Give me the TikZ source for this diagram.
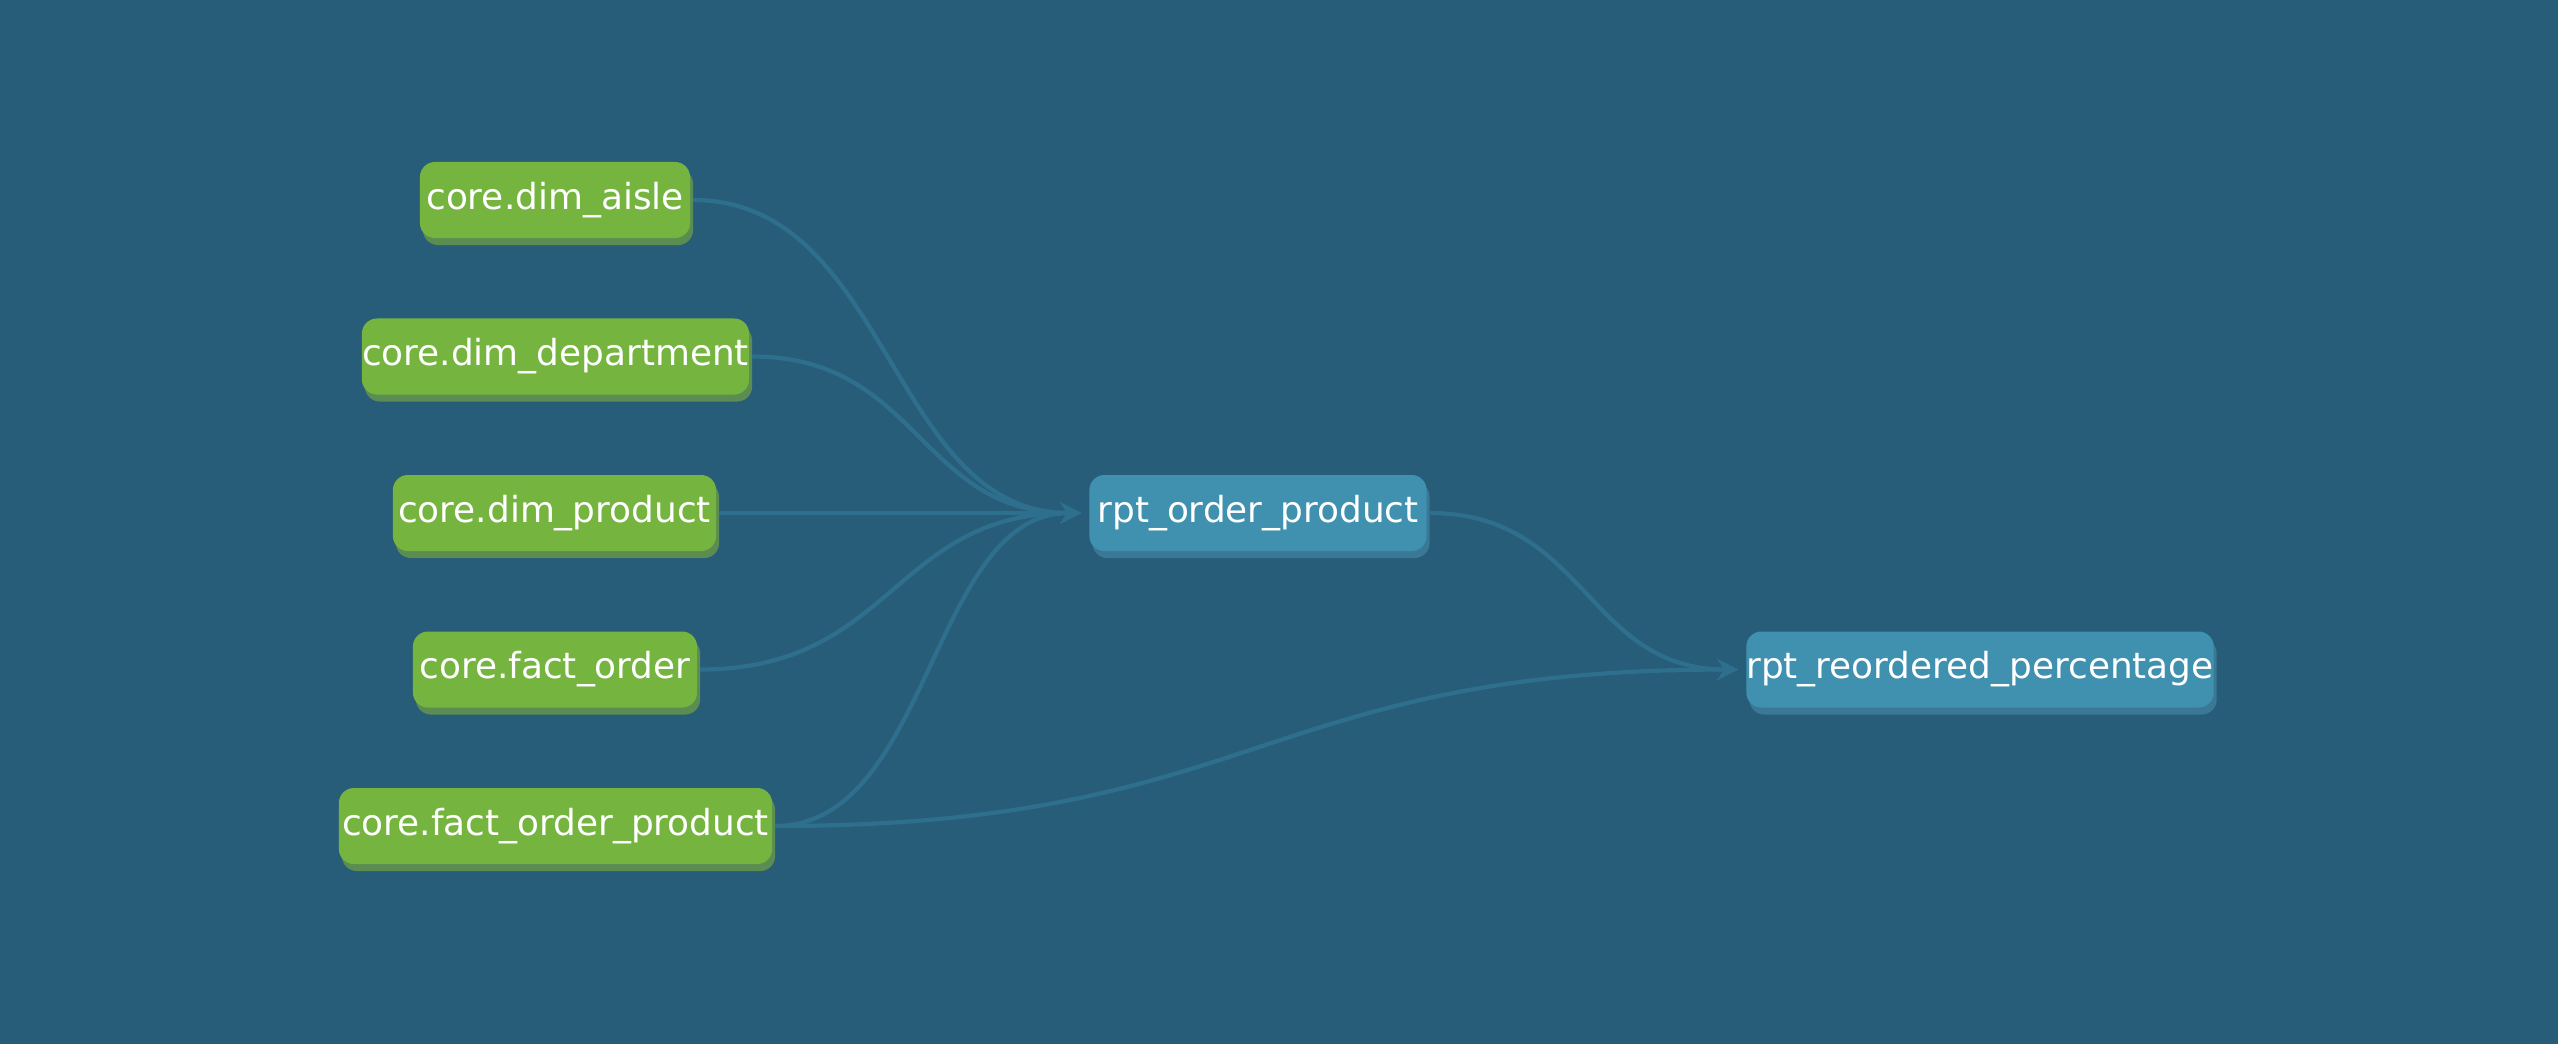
\documentclass[tikz,border=0pt]{standalone}
\usepackage{fontspec}
\setmainfont{DejaVu Sans}
\usetikzlibrary{arrows.meta,shadows,calc}
\definecolor{bg}{HTML}{275D79}
\definecolor{gfill}{HTML}{74B43F}
\definecolor{gshad}{HTML}{5B8D53}
\definecolor{bfill}{HTML}{4091B0}
\definecolor{bshad}{HTML}{3A7895}
\definecolor{edgec}{HTML}{2E6F8D}
\tikzset{
  box/.style={rounded corners=0.15cm, minimum height=0.76cm, inner xsep=0pt, inner ysep=0pt,
    outer sep=0pt, text=white, font=\fontsize{10.2}{12}\selectfont},
  greenbox/.style={box, fill=gfill, drop shadow={shadow xshift=0.03cm, shadow yshift=-0.07cm, fill=gshad, opacity=1}},
  bluebox/.style={box, fill=bfill, drop shadow={shadow xshift=0.03cm, shadow yshift=-0.07cm, fill=bshad, opacity=1}},
  link/.style={draw=edgec, line width=1.2pt, -{Stealth[length=0.21cm,width=0.21cm,inset=0.07cm]},
    shorten >=0.08cm, shorten <=0.03cm,
    to path={let \p1=(\tikztostart), \p2=(\tikztotarget) in
      .. controls ({(\x1+\x2)/2},\y1) and ({(\x1+\x2)/2},\y2) .. (\tikztotarget) \tikztonodes}}
}
\begin{document}
\begin{tikzpicture}[x=0.01cm, y=-0.01cm]
\fill[bg] (0,0) rectangle (2558,1044);
\useasboundingbox (0,0) rectangle (2558,1044);

\node[greenbox, minimum width=2.70cm] (aisle) at (555,200) {core.dim\_aisle};
\node[greenbox, minimum width=3.87cm] (dept) at (555.5,356.5) {core.dim\_department};
\node[greenbox, minimum width=3.23cm] (prod) at (554.5,513) {core.dim\_product};
\node[greenbox, minimum width=2.84cm] (ford) at (555,669.5) {core.fact\_order};
\node[greenbox, minimum width=4.33cm] (fop) at (555.5,826) {core.fact\_order\_product};

\node[bluebox, minimum width=3.37cm] (rop) at (1258,513) {rpt\_order\_product};
\node[bluebox, minimum width=4.66cm] (rrp) at (1980,669.5) {rpt\_reordered\_percentage};

\draw[link] (aisle.east) to (rop.west);
\draw[link] (dept.east) to (rop.west);
\draw[link] (prod.east) to (rop.west);
\draw[link] (ford.east) to (rop.west);
\draw[link] (fop.east) to (rop.west);
\draw[link] (rop.east) to (rrp.west);
\draw[link] (fop.east) to (rrp.west);
\end{tikzpicture}
\end{document}
